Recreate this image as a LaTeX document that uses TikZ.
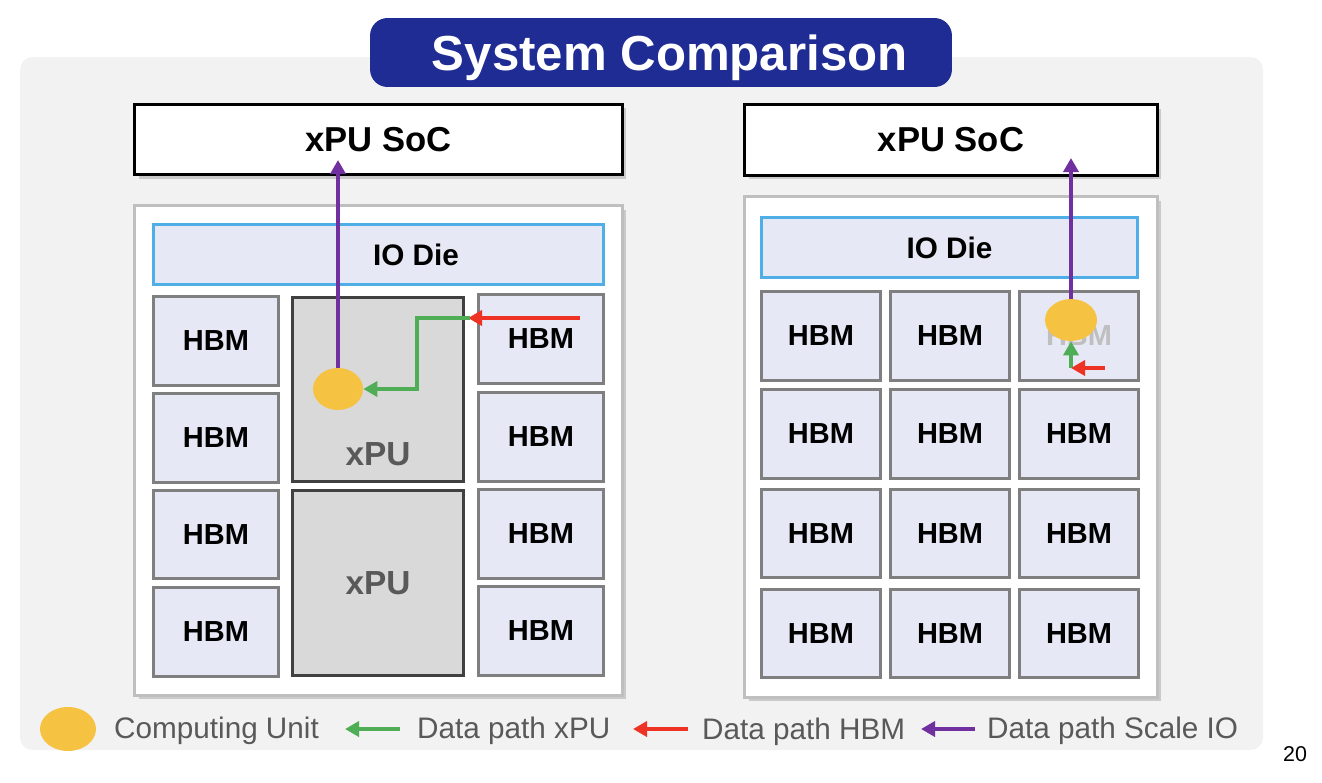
\documentclass[tikz,border=0pt]{standalone}
\usepackage{fontspec}
\setmainfont{Liberation Sans}
\usetikzlibrary{calc, arrows.meta, positioning, shadows, shapes.geometric}
\definecolor{bggray}{HTML}{F2F2F2}
\definecolor{titleblue}{HTML}{1F2C94}
\definecolor{lavender}{HTML}{E6E8F5}
\definecolor{ioblue}{HTML}{4FAEE6}
\definecolor{hbmgray}{HTML}{7F7F7F}
\definecolor{xpufill}{HTML}{D9D9D9}
\definecolor{xpuline}{HTML}{404040}
\definecolor{darkgray}{HTML}{595959}
\definecolor{pkggray}{HTML}{BFBFBF}
\definecolor{fadegray}{HTML}{BFBFBF}
\definecolor{cuyellow}{HTML}{F5C242}
\definecolor{xpugreen}{HTML}{4FAE55}
\definecolor{hbmred}{HTML}{EE3224}
\definecolor{iopurple}{HTML}{7030A0}

\begin{document}
\begin{tikzpicture}[
    x=0.02cm, y=-0.02cm,
    box/.style={rectangle, inner sep=0pt, outer sep=0pt, line width=1.7pt},
    shadowed/.style={drop shadow={shadow xshift=0.08cm, shadow yshift=-0.08cm, opacity=0.35}},
    soc node/.style={box, draw=black, fill=white, shadowed, minimum height=1.41cm,
        font=\fontsize{19.7}{22}\selectfont\bfseries},
    pkg node/.style={box, draw=pkggray, fill=white, shadowed},
    io node/.style={box, draw=ioblue, fill=lavender, minimum height=1.2cm,
        font=\fontsize{16.9}{20}\selectfont\bfseries},
    hbm node/.style={box, draw=hbmgray, fill=lavender, minimum height=1.77cm,
        font=\fontsize{16.5}{20}\selectfont\bfseries},
    xpu node/.style={box, draw=xpuline, fill=xpufill, minimum width=3.42cm},
    xpu text/.style={text=darkgray, font=\fontsize{19}{22}\selectfont\bfseries},
    cu node/.style={ellipse, fill=cuyellow, inner sep=0pt},
    arrow/.style={-{Triangle[length=0.28cm, width=0.3cm]}, line width=2.1pt},
    legend text/.style={anchor=west, text=darkgray, font=\fontsize{16.9}{20}\selectfont}
]
\useasboundingbox (0,0) rectangle (1322,782);

% Background and title
\fill[bggray, rounded corners=0.25cm] (20,57) rectangle (1263,750);
\node[box, fill=titleblue, rounded corners=0.35cm, minimum width=11.64cm, minimum height=1.38cm,
    text depth=0pt, text=white, font=\fontsize{28}{32}\selectfont\bfseries] (title) at (661,52.5)
    {\hspace{0.35cm}System Comparison};

% Left system
\node[soc node, minimum width=9.76cm] (socL) at (378.5,139.5) {xPU SoC};
\node[pkg node, minimum width=9.76cm, minimum height=9.8cm] (pkgL) at (378.5,450.5) {};
\node[io node, minimum width=9.0cm] (ioL) at (378.5,254.5) {\hspace{1.5cm}IO Die};
\foreach \r/\y in {1/341,2/438,3/534.5,4/632}
    \node[hbm node, minimum width=2.5cm] (hbmLa\r) at (216,\y) {HBM};
\foreach \r/\y in {1/339,2/437,3/534,4/631}
    \node[hbm node, minimum width=2.5cm] (hbmLb\r) at (541,\y) {HBM};
\node[xpu node, minimum height=3.68cm] (xpu1) at (378,389.5) {};
\node[xpu node, minimum height=3.7cm] (xpu2) at (378,583) {};
\node[xpu text] (xpu1txt) at ($(xpu1.south)+(0,-27)$) {xPU};
\node[xpu text] (xpu2txt) at (xpu2) {xPU};
\node[cu node, minimum width=1.0cm, minimum height=0.84cm] (cuL) at (338,389) {};

% Left data paths
\coordinate (socLtip) at (338,160);
\coordinate (hbmjoin) at (468,318);
\coordinate (gbend) at (417,389);
\coordinate (redL) at (580,318);
\draw[arrow, iopurple] (cuL) -- (socLtip);
\draw[arrow, hbmred] (redL) -- (hbmjoin);
\draw[arrow, xpugreen, line cap=rect] (hbmjoin) -| (gbend) -- (cuL);

% Right system
\node[soc node, minimum width=8.26cm] (socR) at (951,140) {xPU SoC};
\node[pkg node, minimum width=8.26cm, minimum height=10.02cm] (pkgR) at (951,447) {};
\node[io node, minimum width=7.52cm] (ioR) at (949.5,247.5) {IO Die};
\foreach \r/\y in {1/336,2/434,3/533.5,4/633.5}
    \foreach \c/\x in {1/821,2/950,3/1079}
    {
        \ifnum\r\c=13 \def\tc{fadegray}\else\def\tc{black}\fi
        \node[hbm node, minimum width=2.38cm, text=\tc] (hbmR\r\c) at (\x,\y) {HBM};
    }
\node[cu node, minimum width=1.04cm, minimum height=0.84cm] (cuR) at (1071,320) {};

% Right data paths
\coordinate (socRtip) at (1071,158);
\coordinate (greenR) at (1071,368);
\coordinate (redR) at (1105,368);
\draw[arrow, iopurple] (cuR) -- (socRtip);
\draw[arrow, xpugreen] (greenR) -- (cuR);
\draw[arrow, hbmred] (redR) -- (greenR);

% Legend
\node[cu node, minimum width=1.12cm, minimum height=0.88cm] (cuLeg) at (68,729) {};
\node[legend text] (legCU) at (108,731) {Computing Unit};
\coordinate (lgA) at (345,729);
\coordinate (lgB) at (400,729);
\node[legend text] (legX) at (411,731) {Data path xPU};
\coordinate (lrA) at (633,729);
\coordinate (lrB) at (688,729);
\node[legend text] (legH) at (696,732) {Data path HBM};
\coordinate (lpA) at (921,729);
\coordinate (lpB) at (975,729);
\node[legend text] (legS) at (981,731) {Data path Scale IO};
\draw[arrow, xpugreen] (lgB) -- (lgA);
\draw[arrow, hbmred] (lrB) -- (lrA);
\draw[arrow, iopurple] (lpB) -- (lpA);

% Page number
\node[font=\fontsize{12.2}{14}\selectfont] (page) at (1295,754) {20};
\end{tikzpicture}
\end{document}
